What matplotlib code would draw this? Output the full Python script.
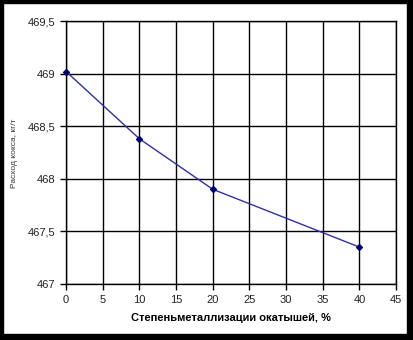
import matplotlib.pyplot as plt
from matplotlib.patches import Rectangle

plt.rcParams['font.family'] = ['Liberation Sans', 'DejaVu Sans']

# данные
metallization = [0, 10, 20, 40]
values = [469.02, 468.38, 467.90, 467.35]

x_ticks = [0, 5, 10, 15, 20, 25, 30, 35, 40, 45]
y_ticks = [467, 467.5, 468, 468.5, 469, 469.5]
y_tick_labels = ['467', '467,5', '468', '468,5', '469', '469,5']

fig = plt.figure(figsize=(4.13, 3.40), dpi=100)
ax = fig.add_axes([0.160, 0.165, 0.799, 0.773])

ax.plot(metallization, values, color='#3030a8', linewidth=1.0,
        marker='D', markersize=3.0, markerfacecolor='#000070',
        markeredgecolor='#000070', clip_on=False, zorder=3)

ax.set_xlim(0, 45)
ax.set_ylim(467, 469.5)
ax.set_xticks(x_ticks)
ax.set_yticks(y_ticks)
ax.set_yticklabels(y_tick_labels)
ax.grid(True, color='black', linewidth=1.0)
ax.tick_params(direction='out', length=4, width=1, labelsize=8, color='black',
               labelcolor='#222222')
ax.tick_params(axis='x', pad=4)
for s in ax.spines.values():
    s.set_linewidth(1.0)

ax.set_xlabel('Степеньметаллизации окатышей, %', fontsize=8, fontweight='bold',
              labelpad=6)

# подпись оси Y в оригинале обрезана краем рамки
fig.text(0.035, 0.55, 'Расход кокса, кг/т', rotation=90, fontsize=6,
         ha='center', va='center', color='#333333')

# рамка с тенью вокруг рисунка
fig.patches.append(Rectangle((0, 0), 3 / 413, 1, transform=fig.transFigure,
                             color='black', zorder=10))
fig.patches.append(Rectangle((0, 1 - 3 / 340), 1, 3 / 340, transform=fig.transFigure,
                             color='black', zorder=10))
fig.patches.append(Rectangle((1 - 6 / 413, 0), 6 / 413, 1, transform=fig.transFigure,
                             color='black', zorder=10))
fig.patches.append(Rectangle((0, 0), 1, 6 / 340, transform=fig.transFigure,
                             color='black', zorder=10))

fig.savefig('out.png', dpi=100)
